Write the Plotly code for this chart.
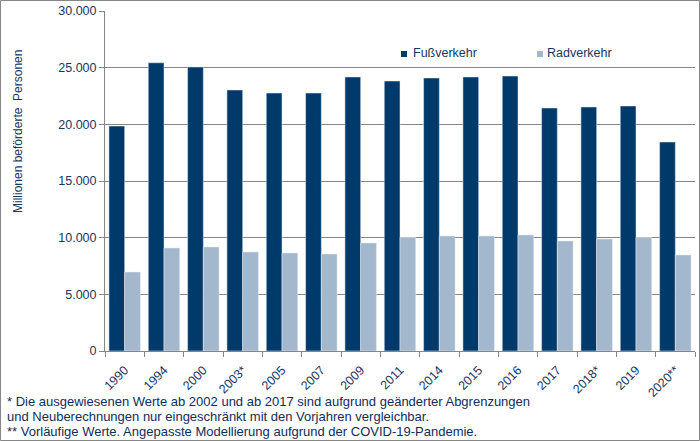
import plotly.graph_objects as go

years = ["1990", "1994", "2000", "2003*", "2005", "2007", "2009", "2011", "2014",
         "2015", "2016", "2017", "2018*", "2019", "2020**"]
fuss = [19850, 25430, 25060, 23030, 22760, 22760, 24180, 23820, 24090,
        24180, 24260, 21440, 21530, 21620, 18440]
rad = [6970, 9090, 9180, 8740, 8650, 8560, 9530, 10030, 10150,
       10150, 10240, 9710, 9880, 10030, 8470]
y_ticks = [0, 5000, 10000, 15000, 20000, 25000, 30000]
series_names = ["Fußverkehr", "Radverkehr"]
footnotes = [
    "* Die ausgewiesenen Werte ab 2002 und ab 2017 sind aufgrund geänderter Abgrenzungen",
    "und Neuberechnungen nur eingeschränkt mit den Vorjahren vergleichbar.",
    "** Vorläufige Werte. Angepasste Modellierung aufgrund der COVID-19-Pandemie.",
]

DARK = "#003A6B"
LIGHT = "#A3B8CC"
TXT = "#17375E"
GRID = "#868686"
FONT = "Liberation Sans, Arial, sans-serif"

W, H = 700, 441
L, R, T, B = 105, 5, 11, 90
PW, PH = W - L - R, H - T - B

def px_x(px):
    return (px - L) / PW

def px_y(py):
    return (H - B - py) / PH

fig = go.Figure()
fig.add_trace(go.Bar(x=years, y=fuss, name=series_names[0], marker_color=DARK))
fig.add_trace(go.Bar(x=years, y=rad, name=series_names[1], marker_color=LIGHT))

fig.update_layout(
    width=W, height=H,
    margin=dict(l=L, r=R, t=T, b=B, autoexpand=False),
    paper_bgcolor="white", plot_bgcolor="white",
    barmode="group", bargap=0.2, bargroupgap=0,
    separators=",.",
    showlegend=False,
    font=dict(family=FONT, size=12, color=TXT),
    xaxis=dict(type="category", tickangle=-45, showgrid=False, automargin=False,
               showline=True, linecolor=GRID, linewidth=1,
               ticks="outside", tickson="boundaries", ticklen=5, tickcolor=GRID,
               ticklabelstandoff=6,
               tickfont=dict(size=12.5, color=TXT)),
    yaxis=dict(range=[0, 30000], tickvals=y_ticks, tickformat=",d", automargin=False,
               showgrid=True, gridcolor=GRID, gridwidth=1,
               showline=True, linecolor=GRID, linewidth=1,
               ticks="outside", ticklen=5, tickcolor=GRID,
               tickfont=dict(size=12.5, color=TXT), zeroline=False),
)

# manual legend
legend_pos = [(401, 411), (537, 545)]
for (mx, tx), name, col in zip(legend_pos, series_names, [DARK, LIGHT]):
    fig.add_shape(type="rect", xref="paper", yref="paper",
                  x0=px_x(mx), x1=px_x(mx + 6), y0=px_y(57), y1=px_y(51),
                  line=dict(width=0), fillcolor=col)
    fig.add_annotation(text=name, xref="paper", yref="paper",
                       x=px_x(tx), y=px_y(52.5), xanchor="left", yanchor="middle",
                       showarrow=False, font=dict(size=12.5, color=TXT))

fig.add_annotation(text="Millionen beförderte  Personen", textangle=-90,
                   xref="paper", yref="paper", x=px_x(18), y=px_y(132),
                   xanchor="center", yanchor="middle", showarrow=False,
                   font=dict(size=12, color=TXT))

for line, yc in zip(footnotes, [401.5, 416.5, 431.5]):
    fig.add_annotation(text=line, xref="paper", yref="paper",
                       x=px_x(5), y=px_y(yc), xanchor="left", yanchor="middle",
                       align="left", showarrow=False,
                       font=dict(size=13, color="#0F2D5A"))

# outer border
fig.add_shape(type="rect", xref="paper", yref="paper",
              x0=px_x(0.5), x1=px_x(699.5), y0=px_y(440.5), y1=px_y(0.5),
              line=dict(color=GRID, width=1), fillcolor="rgba(0,0,0,0)", layer="above")

fig.write_html("out.html", config={"displayModeBar": False},
               post_script="document.body.style.margin='0';document.body.style.overflow='hidden';")
